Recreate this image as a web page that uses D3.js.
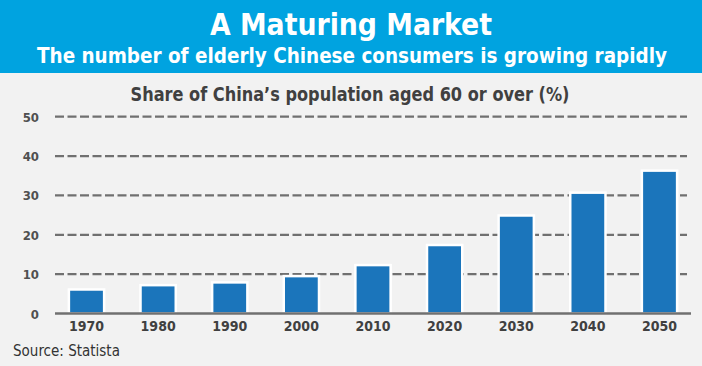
<!DOCTYPE html>
<html><head><meta charset="utf-8">
<script src="https://cdn.jsdelivr.net/npm/d3@7"></script>
<style>html,body{margin:0;padding:0;background:#f2f2f2;}svg{display:block;}</style>
</head><body>
<svg id="c" width="702" height="366"></svg>
<script>
const years = ["1970","1980","1990","2000","2010","2020","2030","2040","2050"];
const shares = [6.1, 7.2, 7.9, 9.5, 12.3, 17.4, 24.9, 30.7, 36.3];
const yTicks = [0, 10, 20, 30, 40, 50];
const titleText = "A Maturing Market";
const subtitleText = "The number of elderly Chinese consumers is growing rapidly";
const chartTitle = "Share of China\u2019s population aged 60 or over (%)";
const sourceText = "Source: Statista";

const svg = d3.select("#c");
const W = 702, H = 366;
const font = "'DejaVu Sans Condensed','DejaVu Sans',sans-serif";

svg.append("rect").attr("width", W).attr("height", H).attr("fill", "#f2f2f2");
svg.append("rect").attr("width", W).attr("height", 73).attr("fill", "#00a3e0");

function fitText(sel, len) {
  sel.attr("textLength", len).attr("lengthAdjust", "spacingAndGlyphs");
}
svg.append("text").attr("x", 351).attr("y", 35).attr("text-anchor", "middle")
  .attr("font-family", font).attr("font-size", 31).attr("font-weight", "bold")
  .attr("fill", "#fff").text(titleText).call(fitText, 282);
svg.append("text").attr("x", 352).attr("y", 63).attr("text-anchor", "middle")
  .attr("font-family", font).attr("font-size", 21).attr("font-weight", "bold")
  .attr("fill", "#fff").text(subtitleText).call(fitText, 630);

svg.append("text").attr("x", 350).attr("y", 101).attr("text-anchor", "middle")
  .attr("font-family", font).attr("font-size", 20).attr("font-weight", "bold")
  .attr("fill", "#404040").text(chartTitle).call(fitText, 439);

const x = d3.scaleBand().domain(years).range([50.7, 695.3]).paddingInner(0.48).paddingOuter(0.24);
const y = d3.scaleLinear().domain([0, 50]).range([313.5, 116.7]);

// grid
const grid = svg.append("g");
grid.selectAll("line").data(yTicks.filter(d => d > 0)).join("line")
  .attr("x1", 55).attr("x2", 687)
  .attr("y1", d => y(d)).attr("y2", d => y(d))
  .attr("stroke", "#707070").attr("stroke-width", 2.2)
  .attr("stroke-dasharray", "9,3.5");

// y labels
const yAxis = d3.axisLeft(y).tickValues(yTicks).tickSize(0).tickPadding(0);
const ya = svg.append("g").attr("transform", "translate(39,0)").call(yAxis);
ya.select(".domain").remove();
ya.selectAll("text").attr("font-family", font).attr("font-size", 13).attr("font-weight", "bold")
  .attr("fill", "#505050").attr("dy", "0.35em");

// bars
svg.append("g").selectAll("rect").data(years).join("rect")
  .attr("x", d => x(d) + 1)
  .attr("width", x.bandwidth() - 2)
  .attr("y", (d, i) => y(shares[i]))
  .attr("height", (d, i) => y(0) - y(shares[i]))
  .attr("fill", "#1b75bb").attr("stroke", "#ffffff").attr("stroke-width", 2.5);

// baseline
svg.append("line").attr("x1", 55).attr("x2", 691).attr("y1", y(0)).attr("y2", y(0))
  .attr("stroke", "#707070").attr("stroke-width", 2.5);

// x labels
const xAxis = d3.axisBottom(x).tickSize(0).tickPadding(0);
const xa = svg.append("g").attr("transform", "translate(0,331)").call(xAxis);
xa.select(".domain").remove();
xa.selectAll("text").attr("font-family", font).attr("font-size", 14).attr("font-weight", "bold")
  .attr("fill", "#404040").attr("dy", 0);

svg.append("text").attr("x", 13).attr("y", 356)
  .attr("font-family", font).attr("font-size", 15)
  .attr("fill", "#333").text(sourceText);
</script>
</body></html>
